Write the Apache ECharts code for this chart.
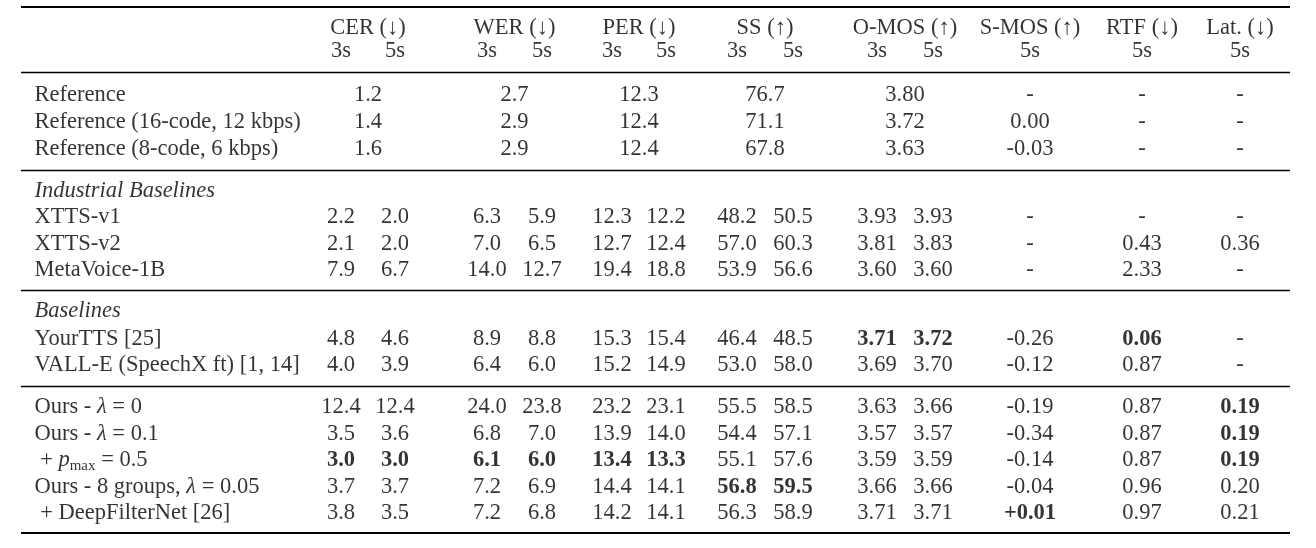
<!DOCTYPE html>
<html><head><meta charset="utf-8">
<script src="https://cdn.jsdelivr.net/npm/echarts@6/dist/echarts.min.js"></script>
<style>html,body{margin:0;padding:0;background:#fff}#c{width:1316px;height:548px}</style>
</head><body><div id="c"></div>
<script>
// ---------------- data ----------------
const metricNames = ['CER (↓)', 'WER (↓)', 'PER (↓)', 'SS (↑)', 'O-MOS (↑)', 'S-MOS (↑)', 'RTF (↓)', 'Lat. (↓)'];
const subHeaders = ['3s', '5s', '3s', '5s', '3s', '5s', '3s', '5s', '3s', '5s', '5s', '5s', '5s'];

const refLabels = ['Reference', 'Reference (16-code, 12 kbps)', 'Reference (8-code, 6 kbps)'];
const refCER  = [1.2, 1.4, 1.6];
const refWER  = [2.7, 2.9, 2.9];
const refPER  = [12.3, 12.4, 12.4];
const refSS   = [76.7, 71.1, 67.8];
const refOMOS = [3.80, 3.72, 3.63];
const refSMOS = [null, 0.00, -0.03];
const refRTF  = [null, null, null];
const refLat  = [null, null, null];

const sectionTitles = ['Industrial Baselines', 'Baselines'];
const modelLabels = [
  'XTTS-v1', 'XTTS-v2', 'MetaVoice-1B',
  'YourTTS [25]', 'VALL-E (SpeechX ft) [1, 14]',
  'Ours - {it|λ} = 0', 'Ours - {it|λ} = 0.1', ' + {it|p}{sub|max} = 0.5',
  'Ours - 8 groups, {it|λ} = 0.05', ' + DeepFilterNet [26]'
];
const cer3  = [2.2, 2.1, 7.9, 4.8, 4.0, 12.4, 3.5, 3.0, 3.7, 3.8];
const cer5  = [2.0, 2.0, 6.7, 4.6, 3.9, 12.4, 3.6, 3.0, 3.7, 3.5];
const wer3  = [6.3, 7.0, 14.0, 8.9, 6.4, 24.0, 6.8, 6.1, 7.2, 7.2];
const wer5  = [5.9, 6.5, 12.7, 8.8, 6.0, 23.8, 7.0, 6.0, 6.9, 6.8];
const per3  = [12.3, 12.7, 19.4, 15.3, 15.2, 23.2, 13.9, 13.4, 14.4, 14.2];
const per5  = [12.2, 12.4, 18.8, 15.4, 14.9, 23.1, 14.0, 13.3, 14.1, 14.1];
const ss3   = [48.2, 57.0, 53.9, 46.4, 53.0, 55.5, 54.4, 55.1, 56.8, 56.3];
const ss5   = [50.5, 60.3, 56.6, 48.5, 58.0, 58.5, 57.1, 57.6, 59.5, 58.9];
const omos3 = [3.93, 3.81, 3.60, 3.71, 3.69, 3.63, 3.57, 3.59, 3.66, 3.71];
const omos5 = [3.93, 3.83, 3.60, 3.72, 3.70, 3.66, 3.57, 3.59, 3.66, 3.71];
const smos5 = [null, null, null, -0.26, -0.12, -0.19, -0.34, -0.14, -0.04, 0.01];
const rtf5  = [null, 0.43, 2.33, 0.06, 0.87, 0.87, 0.87, 0.87, 0.96, 0.97];
const lat5  = [null, 0.36, null, null, null, 0.19, 0.19, 0.19, 0.20, 0.21];

// best values (bold): [model row index, column index]
const boldCells = [[3, 8], [3, 9], [3, 11], [5, 12], [6, 12], [7, 0], [7, 1], [7, 2], [7, 3], [7, 4], [7, 5], [7, 12], [8, 6], [8, 7], [9, 10]];

// ---------------- layout ----------------
const FONT = "'Liberation Serif', 'Times New Roman', 'DejaVu Serif', serif";
const FS = 22.5;
const colX = [341, 395, 487, 542, 612, 666, 737, 793, 877, 933, 1030, 1142, 1240];
const groupCols = [[0, 1], [2, 3], [4, 5], [6, 7], [8, 9], [10], [11], [12]];
const decimals = [1, 1, 1, 1, 2, 2, 2, 2];
const colGroup = [0, 0, 1, 1, 2, 2, 3, 3, 4, 4, 5, 6, 7];
const labelX = 34;
const headerY = [28, 51];
const refY = [95.5, 122.5, 149];
const sectionY = [191, 311.5];
const modelY = [217.5, 244, 270, 339, 365.5, 407, 434, 460.5, 487, 513];
const rules = [[7, 2], [72, 1.4], [170, 1.4], [290, 1.4], [386, 1.4], [533, 2.2]];
const ruleX = [21, 1290];

// ---------------- build ----------------
function fmt(v, g) {
  if (v === null || v === undefined) return '-';
  let s = v.toFixed(decimals[g]);
  if (g === 5 && v > 0) s = '+' + s;
  return s;
}
const groupCenter = groupCols.map(cs => cs.reduce((a, c) => a + colX[c], 0) / cs.length);
const cells = [];
function center(x, y, text, bold) {
  cells.push({ value: [x, y], text: text, label: { position: 'inside', align: 'center', fontWeight: bold ? 'bold' : 'normal' } });
}
function left(x, y, text, italic) {
  cells.push({ value: [x, y], text: text, label: { position: 'right', distance: 0, align: 'left', fontStyle: italic ? 'italic' : 'normal' } });
}
metricNames.forEach((m, g) => center(groupCenter[g], headerY[0], m, false));
subHeaders.forEach((s, c) => center(colX[c], headerY[1], s, false));
const refCols = [refCER, refWER, refPER, refSS, refOMOS, refSMOS, refRTF, refLat];
refLabels.forEach((l, r) => {
  left(labelX, refY[r], l, false);
  refCols.forEach((arr, g) => center(groupCenter[g], refY[r], fmt(arr[r], g), false));
});
sectionTitles.forEach((t, i) => left(labelX, sectionY[i], t, true));
const modelCols = [cer3, cer5, wer3, wer5, per3, per5, ss3, ss5, omos3, omos5, smos5, rtf5, lat5];
modelLabels.forEach((l, r) => {
  left(labelX, modelY[r], l, false);
  modelCols.forEach((arr, c) => {
    const bold = boldCells.some(b => b[0] === r && b[1] === c);
    center(colX[c], modelY[r], fmt(arr[r], colGroup[c]), bold);
  });
});

const chart = echarts.init(document.getElementById('c'), null, { renderer: 'canvas' });
chart.setOption({
  animation: false,
  backgroundColor: '#fff',
  grid: { left: 0, right: 0, top: 0, bottom: 0 },
  xAxis: { type: 'value', min: 0, max: 1316, show: false },
  yAxis: { type: 'value', min: 0, max: 548, inverse: true, show: false },
  series: [{
    type: 'scatter',
    silent: true,
    symbolSize: 1,
    itemStyle: { color: 'rgba(0,0,0,0)' },
    data: cells,
    label: {
      show: true,
      color: '#000',
      fontFamily: FONT,
      fontSize: FS,
      formatter: p => p.data.text,
      rich: {
        it: { fontFamily: FONT, fontSize: FS, fontStyle: 'italic', color: '#000' },
        sub: { fontFamily: FONT, fontSize: 15, color: '#000', padding: [11, 0, 0, 0] }
      }
    },
    markLine: {
      silent: true,
      symbol: ['none', 'none'],
      label: { show: false },
      lineStyle: { color: '#000', type: 'solid' },
      data: rules.map(r => [
        { coord: [ruleX[0], r[0]], lineStyle: { width: r[1], color: '#000', type: 'solid' } },
        { coord: [ruleX[1], r[0]] }
      ])
    }
  }]
});
</script>
</body></html>
